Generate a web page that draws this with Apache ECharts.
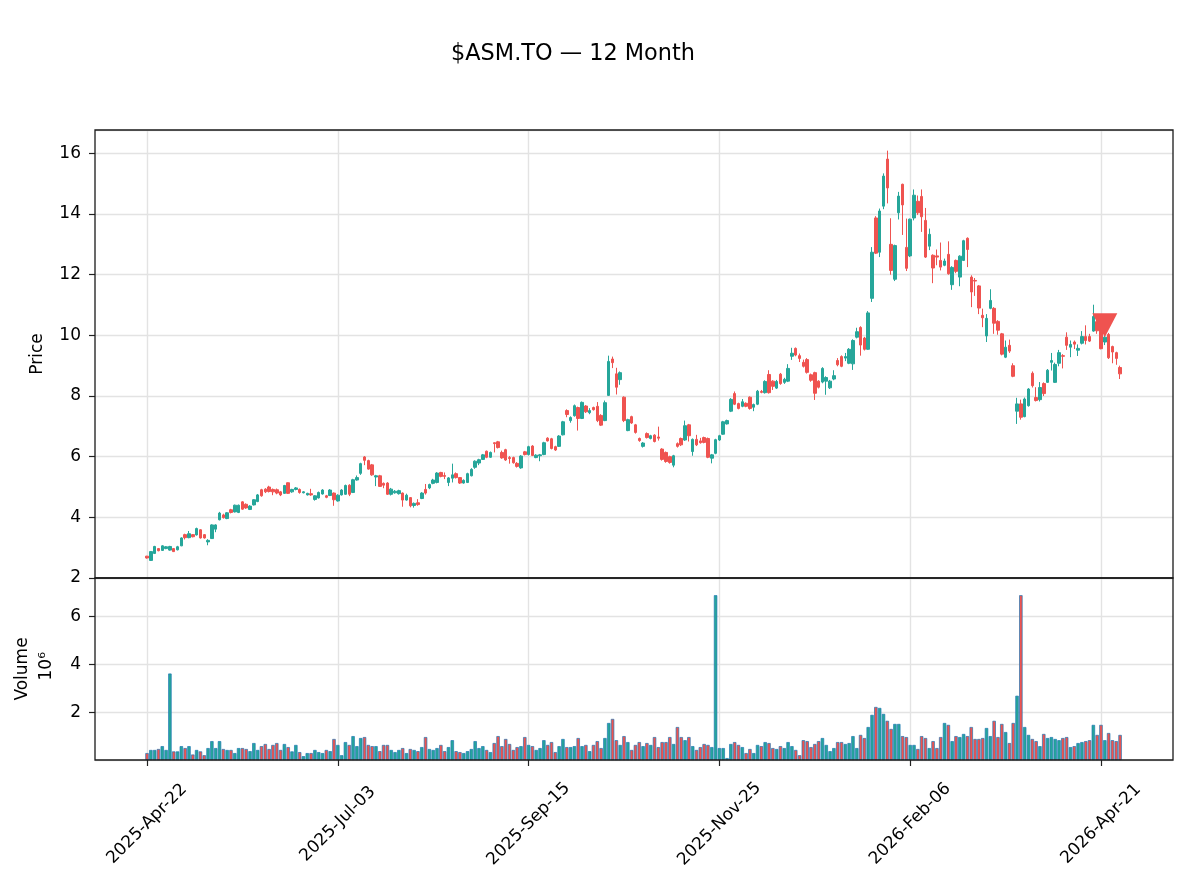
<!DOCTYPE html>
<html>
<head>
<meta charset="utf-8">
<script src="https://cdn.jsdelivr.net/npm/echarts@6/dist/echarts.min.js"></script>
<style>
html, body { margin: 0; padding: 0; background: #fff; }
#chart { width: 1188px; height: 888px; }
</style>
</head>
<body>
<div id="chart"></div>
<script>
// daily bars, one per trading day, index 0 = 2025-Apr-22
var tickIndex = [0, 50, 100, 150, 200, 250];
var tickLabels = ['2025-Apr-22', '2025-Jul-03', '2025-Sep-15', '2025-Nov-25', '2026-Feb-06', '2026-Apr-21'];

var openP = [
  2.72, 2.58, 2.81, 2.97, 2.91, 2.97, 2.92, 2.97, 2.93, 3.06,
  3.43, 3.33, 3.43, 3.42, 3.59, 3.43, 3.19, 3.30, 3.61, 3.92,
  4.08, 3.96, 4.25, 4.18, 4.16, 4.51, 4.43, 4.26, 4.41, 4.52,
  4.91, 4.93, 5.00, 4.92, 4.91, 4.84, 4.79, 5.14, 4.84, 4.92,
  4.92, 4.81, 4.74, 4.78, 4.59, 4.64, 4.77, 4.71, 4.72, 4.80,
  4.54, 4.74, 4.76, 5.06, 4.82, 5.23, 5.45, 5.99, 5.87, 5.73,
  5.33, 5.37, 5.12, 5.13, 4.76, 4.81, 4.78, 4.80, 4.57, 4.65,
  4.39, 4.48, 4.62, 4.92, 4.97, 5.12, 5.15, 5.48, 5.38, 5.15,
  5.29, 5.44, 5.31, 5.13, 5.15, 5.37, 5.65, 5.79, 5.91, 6.18,
  5.98, 6.46, 6.49, 6.14, 6.23, 5.97, 5.97, 5.78, 5.63, 6.16,
  6.07, 6.35, 5.97, 6.03, 6.07, 6.61, 6.59, 6.33, 6.34, 6.72,
  7.52, 7.19, 7.35, 7.62, 7.26, 7.67, 7.45, 7.62, 7.66, 7.36,
  7.19, 8.02, 9.22, 8.73, 8.54, 7.96, 6.86, 7.32, 7.05, 6.60,
  6.34, 6.76, 6.60, 6.71, 6.65, 6.25, 6.14, 6.00, 5.72, 6.43,
  6.60, 6.55, 7.05, 6.17, 6.57, 6.52, 6.63, 6.60, 5.95, 6.11,
  6.55, 6.74, 7.08, 7.50, 8.08, 7.75, 7.66, 7.76, 7.96, 7.63,
  7.73, 8.15, 8.11, 8.71, 8.49, 8.26, 8.72, 8.45, 8.49, 9.31,
  9.57, 9.33, 9.11, 9.20, 8.70, 8.77, 8.49, 8.46, 8.49, 8.27,
  8.56, 9.17, 9.30, 9.25, 9.08, 9.06, 9.94, 10.26, 9.91, 9.54,
  11.22, 13.87, 12.74, 14.26, 15.81, 13.00, 11.85, 14.04, 14.98, 12.90,
  12.62, 13.87, 14.42, 14.58, 13.79, 12.94, 12.64, 12.62, 12.47, 12.31,
  12.67, 11.67, 12.47, 11.92, 12.47, 13.20, 11.92, 11.81, 11.63, 10.66,
  9.98, 10.89, 10.89, 10.46, 10.05, 9.28, 9.67, 9.00, 7.50, 7.74,
  7.32, 7.68, 8.75, 7.95, 7.88, 8.41, 8.45, 9.11, 8.45, 9.08,
  9.33, 9.94, 9.61, 9.78, 9.51, 9.74, 9.96, 9.96, 10.14, 10.45,
  10.49, 9.78, 10.03, 9.63, 9.43, 8.94
];
var closeP = [
  2.66, 2.87, 3.04, 2.90, 3.06, 3.03, 3.04, 2.87, 3.03, 3.32,
  3.33, 3.46, 3.36, 3.63, 3.32, 3.32, 3.24, 3.75, 3.75, 4.14,
  3.99, 4.15, 4.16, 4.40, 4.40, 4.27, 4.31, 4.37, 4.58, 4.74,
  4.71, 4.84, 4.85, 4.84, 4.80, 4.74, 5.05, 4.79, 4.92, 4.97,
  4.82, 4.84, 4.79, 4.74, 4.71, 4.82, 4.90, 4.66, 4.90, 4.58,
  4.73, 4.90, 5.05, 4.76, 5.24, 5.31, 5.77, 5.88, 5.59, 5.40,
  5.37, 5.02, 5.06, 4.76, 4.93, 4.86, 4.88, 4.57, 4.73, 4.38,
  4.46, 4.42, 4.80, 4.80, 5.08, 5.23, 5.46, 5.35, 5.35, 5.30,
  5.40, 5.31, 5.13, 5.22, 5.44, 5.58, 5.85, 5.90, 6.06, 5.98,
  6.14, 6.43, 6.30, 5.96, 5.89, 5.94, 5.80, 5.68, 6.02, 6.07,
  6.33, 6.04, 6.05, 6.06, 6.46, 6.52, 6.27, 6.22, 6.68, 7.15,
  7.39, 7.29, 7.68, 7.26, 7.79, 7.48, 7.52, 7.55, 7.19, 7.04,
  7.78, 9.14, 9.10, 8.29, 8.77, 7.19, 7.22, 7.11, 6.80, 6.53,
  6.45, 6.63, 6.69, 6.50, 6.61, 5.91, 5.84, 5.81, 6.03, 6.34,
  6.39, 7.02, 6.69, 6.57, 6.39, 6.46, 6.47, 5.98, 6.06, 6.56,
  6.69, 7.15, 7.19, 7.89, 7.73, 7.59, 7.81, 7.66, 7.59, 7.72,
  8.16, 8.12, 8.48, 8.11, 8.32, 8.48, 8.41, 8.55, 8.91, 9.41,
  9.35, 9.24, 8.98, 8.78, 8.52, 8.09, 8.29, 8.91, 8.61, 8.49,
  8.67, 9.03, 8.98, 9.30, 9.54, 9.83, 10.12, 9.68, 9.54, 10.74,
  12.74, 12.71, 14.10, 15.25, 14.86, 12.14, 12.96, 14.59, 14.30, 12.21,
  13.83, 14.62, 14.04, 13.91, 12.58, 13.33, 12.22, 12.58, 12.25, 12.45,
  12.03, 12.24, 12.11, 12.61, 13.12, 12.83, 11.43, 11.79, 10.90, 10.58,
  10.56, 11.15, 10.40, 10.17, 9.38, 9.61, 9.48, 8.65, 7.74, 7.30,
  7.90, 8.23, 8.34, 7.85, 8.28, 8.08, 8.85, 9.17, 9.04, 9.43,
  9.31, 9.67, 9.70, 9.71, 9.57, 9.96, 9.83, 9.81, 10.62, 10.15,
  9.56, 9.94, 9.26, 9.45, 9.24, 8.73
];
var highP = [
  2.73, 2.89, 3.06, 2.99, 3.08, 3.05, 3.06, 2.99, 3.06, 3.34,
  3.46, 3.55, 3.45, 3.66, 3.61, 3.45, 3.28, 3.77, 3.77, 4.18,
  4.12, 4.17, 4.28, 4.42, 4.42, 4.53, 4.46, 4.40, 4.60, 4.77,
  4.94, 4.96, 5.04, 4.95, 4.95, 4.87, 5.07, 5.15, 4.94, 5.00,
  4.95, 4.86, 4.81, 4.94, 4.73, 4.85, 4.93, 4.74, 4.93, 4.82,
  4.76, 4.93, 5.08, 5.09, 5.27, 5.38, 5.80, 6.02, 5.90, 5.76,
  5.40, 5.40, 5.15, 5.16, 4.97, 4.90, 4.91, 4.82, 4.78, 4.67,
  4.49, 4.60, 4.83, 5.10, 5.11, 5.27, 5.49, 5.50, 5.48, 5.33,
  5.77, 5.48, 5.33, 5.25, 5.47, 5.62, 5.88, 5.93, 6.09, 6.20,
  6.17, 6.47, 6.52, 6.20, 6.26, 6.02, 6.00, 5.82, 6.05, 6.19,
  6.36, 6.38, 6.08, 6.09, 6.49, 6.64, 6.62, 6.36, 6.71, 7.18,
  7.56, 7.33, 7.72, 7.65, 7.82, 7.70, 7.60, 7.65, 7.80, 7.40,
  7.85, 9.33, 9.30, 8.93, 8.81, 7.99, 7.25, 7.35, 7.08, 6.63,
  6.48, 6.80, 6.72, 6.74, 6.99, 6.28, 6.17, 6.03, 6.06, 6.47,
  6.63, 7.19, 7.08, 6.60, 6.72, 6.62, 6.66, 6.63, 6.09, 6.59,
  6.72, 7.18, 7.22, 7.93, 8.15, 7.78, 7.90, 7.79, 7.99, 7.75,
  8.20, 8.20, 8.52, 8.85, 8.52, 8.53, 8.76, 8.60, 9.05, 9.59,
  9.60, 9.40, 9.20, 9.25, 8.74, 8.80, 8.52, 8.95, 8.65, 8.53,
  8.85, 9.25, 9.34, 9.42, 9.58, 9.87, 10.25, 10.30, 9.95, 10.80,
  12.91, 13.93, 14.18, 15.34, 16.09, 13.86, 12.99, 14.73, 15.00, 13.85,
  13.85, 14.81, 14.61, 14.81, 14.20, 13.52, 12.67, 12.83, 13.06, 12.53,
  13.10, 12.28, 12.50, 12.64, 13.15, 13.23, 11.98, 11.89, 11.66, 10.88,
  10.70, 11.52, 10.93, 10.50, 10.08, 9.83, 9.86, 9.08, 7.94, 7.88,
  7.95, 8.26, 8.81, 8.29, 8.46, 8.45, 8.89, 9.42, 9.10, 9.52,
  9.38, 10.10, 9.83, 9.83, 9.70, 10.14, 10.33, 10.05, 11.01, 10.60,
  10.60, 10.03, 10.08, 9.66, 9.46, 9.00
];
var lowP = [
  2.64, 2.56, 2.79, 2.88, 2.89, 2.95, 2.90, 2.86, 2.91, 3.05,
  3.27, 3.31, 3.34, 3.40, 3.30, 3.30, 3.08, 3.29, 3.51, 3.90,
  3.96, 3.94, 4.13, 4.16, 4.14, 4.25, 4.28, 4.24, 4.39, 4.50,
  4.68, 4.80, 4.82, 4.73, 4.76, 4.70, 4.77, 4.77, 4.81, 4.89,
  4.78, 4.79, 4.72, 4.71, 4.55, 4.62, 4.75, 4.63, 4.70, 4.38,
  4.52, 4.72, 4.74, 4.70, 4.80, 5.21, 5.40, 5.72, 5.57, 5.37,
  5.03, 5.00, 4.96, 4.74, 4.72, 4.78, 4.75, 4.35, 4.55, 4.33,
  4.32, 4.38, 4.60, 4.75, 4.93, 5.09, 5.12, 5.32, 5.26, 5.03,
  5.15, 5.28, 5.10, 5.11, 5.13, 5.35, 5.60, 5.72, 5.89, 5.95,
  5.96, 6.14, 6.27, 5.93, 5.86, 5.77, 5.77, 5.64, 5.60, 6.04,
  6.04, 6.02, 5.95, 5.85, 6.05, 6.50, 6.24, 6.19, 6.32, 6.70,
  7.30, 7.12, 7.32, 6.86, 7.24, 7.44, 7.40, 7.52, 7.14, 7.01,
  7.17, 8.00, 8.92, 8.05, 8.37, 7.14, 6.84, 7.08, 6.76, 6.49,
  6.30, 6.60, 6.57, 6.47, 6.53, 5.87, 5.80, 5.77, 5.65, 6.30,
  6.35, 6.52, 6.50, 6.03, 6.35, 6.43, 6.44, 5.95, 5.78, 6.08,
  6.52, 6.72, 7.06, 7.47, 7.70, 7.56, 7.63, 7.63, 7.55, 7.50,
  7.70, 8.09, 8.08, 8.08, 8.20, 8.23, 8.37, 8.40, 8.46, 9.19,
  9.31, 9.12, 8.94, 8.74, 8.47, 7.87, 8.25, 8.42, 8.04, 8.23,
  8.52, 8.98, 8.95, 9.15, 9.05, 8.86, 9.90, 9.33, 9.50, 9.52,
  11.10, 12.68, 12.58, 14.16, 14.35, 12.00, 11.79, 13.82, 13.31, 12.12,
  12.58, 13.79, 13.97, 13.41, 12.55, 12.81, 11.72, 12.31, 12.14, 12.28,
  12.00, 11.50, 12.05, 11.62, 12.45, 12.25, 10.93, 11.30, 10.70, 10.27,
  9.78, 10.86, 10.05, 10.02, 9.34, 9.25, 9.42, 8.62, 7.08, 7.22,
  7.30, 7.65, 8.28, 7.82, 7.82, 8.00, 8.43, 8.84, 8.43, 8.98,
  8.91, 9.52, 9.28, 9.55, 9.32, 9.70, 9.70, 9.78, 10.12, 10.05,
  9.54, 9.68, 9.22, 9.08, 9.03, 8.56
];
// volume in millions of shares
var volume = [
  0.29, 0.42, 0.42, 0.46, 0.58, 0.42, 3.62, 0.36, 0.36, 0.58,
  0.50, 0.58, 0.23, 0.42, 0.36, 0.20, 0.50, 0.79, 0.50, 0.79,
  0.46, 0.42, 0.42, 0.29, 0.50, 0.50, 0.46, 0.37, 0.71, 0.42,
  0.58, 0.67, 0.46, 0.63, 0.71, 0.42, 0.67, 0.54, 0.36, 0.63,
  0.33, 0.16, 0.29, 0.29, 0.42, 0.33, 0.29, 0.42, 0.37, 0.88,
  0.63, 0.20, 0.75, 0.63, 1.00, 0.58, 0.92, 0.96, 0.63, 0.58,
  0.58, 0.37, 0.63, 0.63, 0.42, 0.33, 0.42, 0.50, 0.29, 0.46,
  0.42, 0.37, 0.54, 0.96, 0.46, 0.42, 0.50, 0.63, 0.37, 0.54,
  0.83, 0.37, 0.33, 0.29, 0.37, 0.46, 0.79, 0.50, 0.58, 0.42,
  0.33, 0.71, 1.00, 0.58, 0.88, 0.67, 0.42, 0.54, 0.58, 0.96,
  0.63, 0.58, 0.42, 0.50, 0.83, 0.63, 0.75, 0.33, 0.58, 0.88,
  0.54, 0.54, 0.58, 0.92, 0.58, 0.63, 0.37, 0.63, 0.79, 0.50,
  0.92, 1.55, 1.72, 0.83, 0.63, 1.00, 0.75, 0.42, 0.63, 0.75,
  0.58, 0.71, 0.63, 0.96, 0.54, 0.75, 0.75, 0.96, 0.67, 1.38,
  0.96, 0.83, 0.96, 0.58, 0.42, 0.54, 0.67, 0.63, 0.54, 6.90,
  0.50, 0.50, 0.08, 0.67, 0.75, 0.63, 0.54, 0.29, 0.46, 0.29,
  0.63, 0.58, 0.75, 0.71, 0.50, 0.46, 0.58, 0.50, 0.75, 0.58,
  0.42, 0.20, 0.83, 0.79, 0.54, 0.67, 0.79, 0.92, 0.63, 0.37,
  0.50, 0.75, 0.75, 0.67, 0.71, 1.00, 0.50, 1.05, 0.92, 1.38,
  1.89, 2.22, 2.18, 1.93, 1.64, 1.30, 1.51, 1.51, 1.00, 0.96,
  0.63, 0.63, 0.46, 1.00, 0.92, 0.50, 0.79, 0.50, 0.96, 1.55,
  1.47, 0.79, 1.00, 0.96, 1.09, 1.00, 1.38, 0.88, 0.88, 0.92,
  1.34, 1.00, 1.64, 0.96, 1.51, 1.17, 0.71, 1.55, 2.69, 6.90,
  1.38, 1.05, 0.88, 0.79, 0.58, 1.09, 0.92, 0.96, 0.88, 0.83,
  0.92, 0.96, 0.54, 0.58, 0.71, 0.75, 0.79, 0.83, 1.47, 1.05,
  1.47, 0.83, 1.13, 0.83, 0.79, 1.05
];
// sell signal marker
var signalIndex = [251];
var signalPrice = [10.33];

var UP = '#26a69a';
var DOWN = '#ef5350';
var FONT = 'DejaVu Sans';
var GRID_LINE = { show: true, lineStyle: { color: '#e3e3e3', width: 1.4 } };
var X_MIN = -13.63, X_MAX = 268.87;

var candles = openP.map(function (o, i) {
  return [i, o, closeP[i], lowP[i], highP[i]];
});
var volBars = volume.map(function (v, i) {
  return {
    value: [i, v],
    itemStyle: { color: closeP[i] >= openP[i] ? UP : DOWN }
  };
});
var signals = signalIndex.map(function (x, k) { return [x, signalPrice[k]]; });

function dateLabel(v) {
  var k = tickIndex.indexOf(Math.round(v));
  return k >= 0 ? tickLabels[k] : '';
}

var chart = echarts.init(document.getElementById('chart'), null, { renderer: 'canvas' });
chart.setOption({
  animation: false,
  backgroundColor: '#fff',
  textStyle: { fontFamily: FONT },
  title: {
    text: '$ASM.TO \u2014 12 Month',
    left: 568,
    top: 38,
    textAlign: 'center',
    textStyle: { fontFamily: FONT, fontSize: 22.4, fontWeight: 'normal', color: '#000' }
  },
  grid: [
    { left: 95, right: 15, top: 130, height: 448, show: false },
    { left: 95, right: 15, top: 578, height: 182, show: false }
  ],
  xAxis: [
    {
      type: 'value', gridIndex: 0, min: X_MIN, max: X_MAX,
      axisLine: { show: false, onZero: false },
      axisTick: { show: false, customValues: tickIndex },
      axisLabel: { show: false, customValues: tickIndex },
      splitLine: GRID_LINE
    },
    {
      type: 'value', gridIndex: 1, min: X_MIN, max: X_MAX,
      axisLine: { show: false, onZero: false },
      axisTick: { show: true, length: 6, lineStyle: { color: '#222', width: 1.2 }, customValues: tickIndex },
      axisLabel: {
        show: true, customValues: tickIndex, formatter: dateLabel,
        rotate: 45, align: 'center', verticalAlign: 'middle', margin: 64,
        fontFamily: FONT, fontSize: 17, color: '#000'
      },
      splitLine: GRID_LINE
    }
  ],
  yAxis: [
    {
      type: 'value', gridIndex: 0, min: 2, max: 16.77, interval: 2,
      name: 'Price', nameLocation: 'middle', nameRotate: 90, nameGap: 49,
      nameTextStyle: { fontFamily: FONT, fontSize: 17, color: '#000' },
      axisLine: { show: false, onZero: false },
      axisTick: { show: true, length: 6, lineStyle: { color: '#222', width: 1.2 } },
      axisLabel: { fontFamily: FONT, fontSize: 17, color: '#000', margin: 14, showMaxLabel: false },
      splitLine: GRID_LINE
    },
    {
      type: 'value', gridIndex: 1, min: 0, max: 7.62, interval: 2,
      name: 'Volume', nameLocation: 'middle', nameRotate: 90, nameGap: 64,
      nameTextStyle: { fontFamily: FONT, fontSize: 17, color: '#000' },
      axisLine: { show: false, onZero: false },
      axisTick: { show: true, length: 6, lineStyle: { color: '#222', width: 1.2 } },
      axisLabel: { fontFamily: FONT, fontSize: 17, color: '#000', margin: 14, showMinLabel: false, showMaxLabel: false },
      splitLine: GRID_LINE
    }
  ],
  graphic: [
    {
      type: 'text', left: 38, top: 652, rotation: Math.PI / 2,
      style: { text: '10\u2076', fontFamily: FONT, fontSize: 17, fill: '#000' }
    },
    // panel frames
    {
      type: 'rect', z: 100, silent: true,
      shape: { x: 95, y: 130, width: 1078, height: 448 },
      style: { fill: 'none', stroke: '#1a1a1a', lineWidth: 1.3 }
    },
    {
      type: 'rect', z: 100, silent: true,
      shape: { x: 95, y: 578, width: 1078, height: 182 },
      style: { fill: 'none', stroke: '#1a1a1a', lineWidth: 1.3 }
    }
  ],
  series: [
    {
      type: 'candlestick', name: 'price', xAxisIndex: 0, yAxisIndex: 0,
      data: candles, encode: { x: 0, y: [1, 2, 3, 4] },
      barWidth: 3,
      itemStyle: { color: UP, color0: DOWN, borderColor: UP, borderColor0: DOWN, borderWidth: 1 }
    },
    {
      type: 'bar', name: 'volume', xAxisIndex: 1, yAxisIndex: 1,
      data: volBars, barWidth: 3.4,
      itemStyle: { borderColor: '#1f77b4', borderWidth: 0.7 }
    },
    {
      type: 'scatter', name: 'signal', xAxisIndex: 0, yAxisIndex: 0,
      data: signals, symbol: 'triangle', symbolRotate: 180, symbolSize: [25, 24],
      itemStyle: { color: DOWN, opacity: 1 }, z: 5
    }
  ]
});
</script>
</body>
</html>
